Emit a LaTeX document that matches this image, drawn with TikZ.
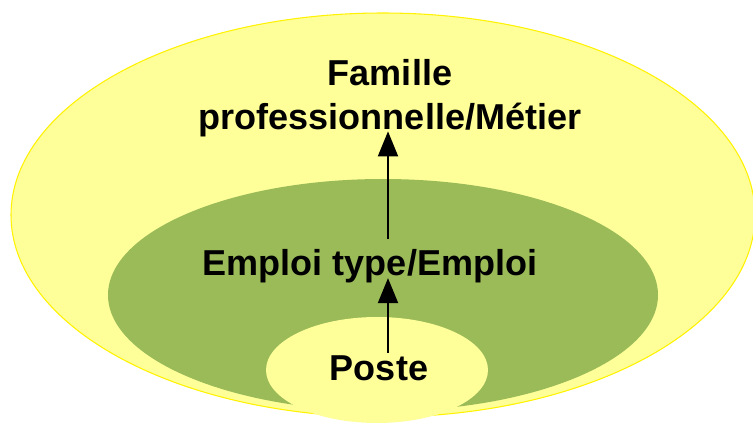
\documentclass[tikz,border=0pt]{standalone}
\usepackage{fontspec}
\setmainfont{Liberation Sans}
\usetikzlibrary{arrows.meta}
\definecolor{paleyellow}{HTML}{FFFF99}
\definecolor{leafgreen}{HTML}{9BBB59}

\begin{document}
\begin{tikzpicture}[>={Triangle[length=5mm,width=4mm]},
  lbl/.style={font=\fontsize{20.5}{25}\selectfont\bfseries, inner sep=1pt, align=center},
  flow/.style={->, line width=1.1pt}]
  \useasboundingbox (0,0) rectangle (15.06,8.48);
  % nested levels
  \filldraw[fill=paleyellow, draw=yellow, line width=0.6pt] (7.66,4.18) ellipse[x radius=7.44, y radius=4.04];
  \fill[leafgreen] (7.66,2.58) ellipse[x radius=5.5, y radius=2.32];
  \fill[paleyellow] (7.54,1.08) ellipse[x radius=2.22, y radius=1.06];
  % labels
  \node[lbl] (famille) at (7.8,6.52) {Famille\\professionnelle/Métier};
  \node[lbl, anchor=base, text depth=0pt] (emploi) at (7.4,2.96) {Emploi type/Emploi};
  \node[lbl, anchor=base] (poste) at (7.58,0.88) {Poste};
  \coordinate (axe) at (7.76,0);
  \draw[flow] (poste.north -| axe) -- (emploi.south -| axe);
  \draw[flow, shorten <=1.7mm, shorten >=-1.5mm] (emploi.north -| axe) -- (famille.south -| axe);
\end{tikzpicture}
\end{document}
